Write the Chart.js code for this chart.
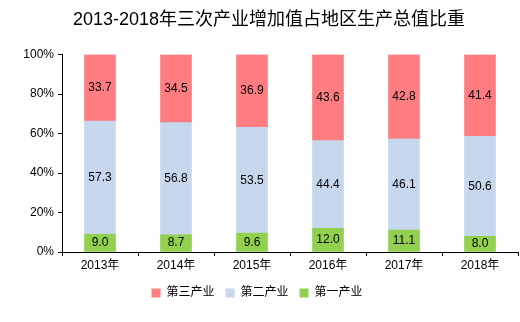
<!DOCTYPE html>
<html>
<head>
<meta charset="utf-8">
<script src="https://cdn.jsdelivr.net/npm/chart.js@4/dist/chart.umd.min.js"></script>
<style>
  html, body { margin: 0; padding: 0; background: #fff; }
  #wrap { width: 520px; height: 322px; }
</style>
</head>
<body>
<div id="wrap"><canvas id="shareChart" width="520" height="322"></canvas></div>
<script>
  // Categories and shares (%)
  const years = ['2013年', '2014年', '2015年', '2016年', '2017年', '2018年'];
  const primary = [9.0, 8.7, 9.6, 12.0, 11.1, 8.0];      // 第一产业
  const secondary = [57.3, 56.8, 53.5, 44.4, 46.1, 50.6]; // 第二产业
  const tertiary = [33.7, 34.5, 36.9, 43.6, 42.8, 41.4];  // 第三产业
  const yTicks = [0, 20, 40, 60, 80, 100];

  const latin = '"Liberation Sans", Arial, sans-serif';
  const cjk = '"Liberation Sans", "Noto Sans CJK SC", sans-serif';

  // draws the value in the middle of every bar segment
  const valueLabels = {
    id: 'valueLabels',
    afterDatasetsDraw(chart) {
      const ctx = chart.ctx;
      ctx.save();
      ctx.font = '12px ' + latin;
      ctx.fillStyle = '#000';
      ctx.textAlign = 'center';
      ctx.textBaseline = 'middle';
      chart.data.datasets.forEach(function(ds, i) {
        chart.getDatasetMeta(i).data.forEach(function(bar, j) {
          const mid = (bar.y + bar.base) / 2;
          ctx.fillText(ds.data[j].toFixed(1), bar.x, mid);
        });
      });
      ctx.restore();
    }
  };

  // legend sits a bit left of the title in the original
  const legendNudge = {
    id: 'legendNudge',
    afterLayout(chart) {
      chart.legend.left -= 12;
      chart.legend.right -= 12;
    }
  };

  const ctx = document.getElementById('shareChart').getContext('2d');
  const chart = new Chart(ctx, {
    type: 'bar',
    data: {
      labels: years,
      datasets: [
        { label: '第一产业', data: primary, backgroundColor: '#92D050' },
        { label: '第二产业', data: secondary, backgroundColor: '#C6D7EE' },
        { label: '第三产业', data: tertiary, backgroundColor: '#FF7C80' }
      ]
    },
    options: {
      responsive: false,
      animation: false,
      devicePixelRatio: 1,
      layout: { padding: { left: 20, right: 2, top: 0, bottom: 13 } },
      datasets: { bar: { barThickness: 31 } },
      scales: {
        x: {
          stacked: true,
          grid: { drawOnChartArea: false, drawTicks: true, tickLength: 4, color: '#000', offset: true },
          border: { color: '#000', width: 1 },
          ticks: { color: '#000', font: { family: cjk, size: 12 }, padding: 2 },
          afterFit: function(s) { s.height = 24; }
        },
        y: {
          stacked: true,
          min: 0,
          max: 100,
          afterBuildTicks: function(s) { s.ticks = yTicks.map(function(v) { return { value: v }; }); },
          grid: { drawOnChartArea: false, drawTicks: true, tickLength: 4, color: '#000' },
          border: { color: '#000', width: 1 },
          ticks: {
            color: '#000',
            font: { family: latin, size: 12 },
            padding: 4,
            callback: function(v) { return v + '%'; }
          },
          afterFit: function(s) { s.width = 42; }
        }
      },
      plugins: {
        title: {
          display: true,
          text: '2013-2018年三次产业增加值占地区生产总值比重',
          color: '#000',
          font: { family: cjk, size: 18, weight: 'normal' },
          padding: { top: 9, bottom: 24 }
        },
        legend: {
          position: 'bottom',
          reverse: true,
          labels: {
            color: '#000',
            font: { family: cjk, size: 12 },
            boxWidth: 9,
            boxHeight: 9,
            padding: 11
          }
        },
        tooltip: { enabled: false }
      }
    },
    plugins: [valueLabels, legendNudge]
  });
</script>
</body>
</html>
